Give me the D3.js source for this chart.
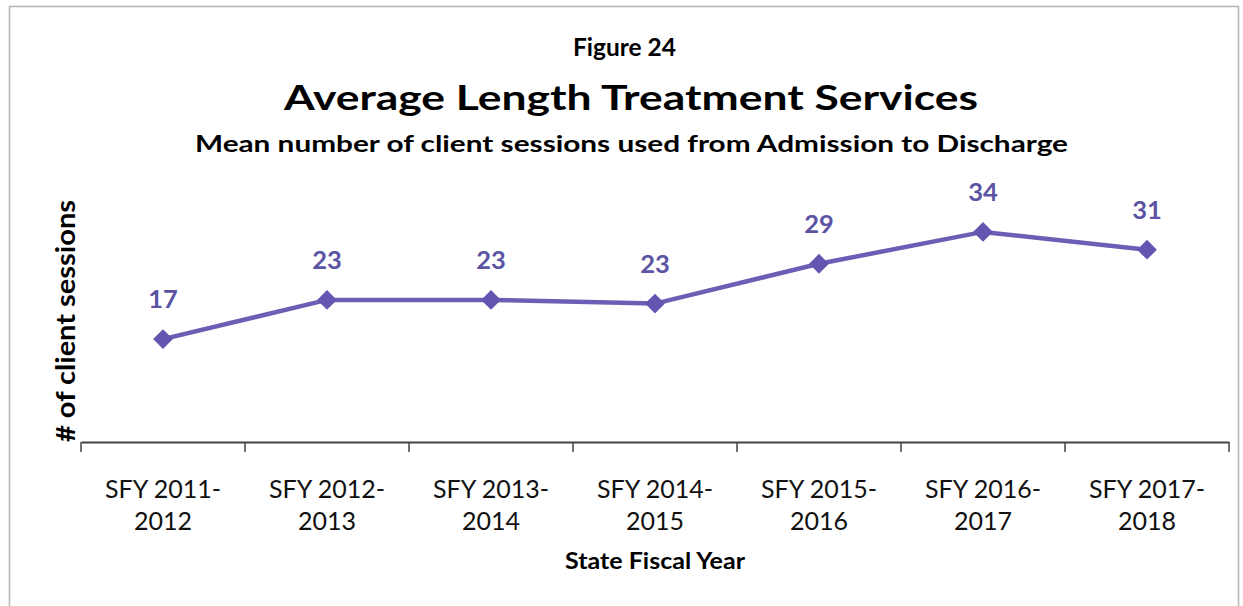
<!DOCTYPE html>
<html><head><meta charset="utf-8">
<script src="https://cdn.jsdelivr.net/npm/d3@7"></script>
<style>body{margin:0;background:#fff;} svg{display:block;}</style>
</head><body>
<svg id="c" width="1243" height="606"></svg>
<script>
const categories = ["SFY 2011-2012","SFY 2012-2013","SFY 2013-2014","SFY 2014-2015","SFY 2015-2016","SFY 2016-2017","SFY 2017-2018"];
const tickLines = [["SFY 2011-","2012"],["SFY 2012-","2013"],["SFY 2013-","2014"],["SFY 2014-","2015"],["SFY 2015-","2016"],["SFY 2016-","2017"],["SFY 2017-","2018"]];
const sessions = [16.8, 23.2, 23.2, 22.6, 29.1, 34.3, 31.4];

const svg = d3.select("#c");
const font = "Lato, 'Open Sans', sans-serif";
const purple = "#6a5fb4";

svg.append("rect").attr("x",9.5).attr("y",6.5).attr("width",1229).attr("height",610)
  .attr("fill","#fff").attr("stroke","#b5b5b5").attr("stroke-width",1.5);

const x = d3.scaleBand().domain(categories).range([81,1229]);
const y = d3.scaleLinear().domain([0,40]).range([442,197]);

function fitText(sel, len){ sel.attr("textLength",len).attr("lengthAdjust","spacingAndGlyphs"); return sel; }

fitText(svg.append("text").attr("x",624.5).attr("y",55.5).attr("text-anchor","middle")
  .attr("font-family",font).attr("font-weight","bold").attr("font-size",24.5).text("Figure 24"),103);
fitText(svg.append("text").attr("x",631).attr("y",109.5).attr("text-anchor","middle")
  .attr("font-family",font).attr("font-weight","bold").attr("font-size",35).text("Average Length Treatment Services"),694);
fitText(svg.append("text").attr("x",631.5).attr("y",152).attr("text-anchor","middle")
  .attr("font-family",font).attr("font-weight","bold").attr("font-size",22.5).text("Mean number of client sessions used from Admission to Discharge"),873);

// x axis
const xAxis = svg.append("g").attr("transform","translate(0,442)")
  .call(d3.axisBottom(x).tickSize(0).tickFormat(""));
xAxis.select(".domain").attr("stroke","#444").attr("stroke-width",2);
const bounds = categories.map(c=>x(c)).concat([x.range()[1]]);
svg.append("g").selectAll("line").data(bounds).join("line")
  .attr("x1",d=>d).attr("x2",d=>d).attr("y1",442).attr("y2",452)
  .attr("stroke","#444").attr("stroke-width",1.5);

const tl = svg.append("g").selectAll("text").data(categories).join("text")
  .attr("text-anchor","middle").attr("font-family",font).attr("font-size",25).attr("fill","#111")
  .attr("transform",d=>`translate(${x(d)+x.bandwidth()/2},0)`);
tl.each(function(d,i){
  const t=d3.select(this);
  tickLines[i].forEach((s,j)=>t.append("tspan").attr("x",0).attr("y",498+j*32).text(s));
});

fitText(svg.append("text").attr("x",655).attr("y",569).attr("text-anchor","middle")
  .attr("font-family",font).attr("font-weight","bold").attr("font-size",23).text("State Fiscal Year"),180);

fitText(svg.append("text").attr("transform","translate(75,321) rotate(-90)").attr("text-anchor","middle")
  .attr("font-family",font).attr("font-weight","bold").attr("font-size",26).text("# of client sessions"),242);

const cx = d=>x(d)+x.bandwidth()/2;
const line = d3.line().x((d,i)=>cx(categories[i])).y(d=>y(d));
svg.append("path").datum(sessions).attr("d",line).attr("fill","none")
  .attr("stroke",purple).attr("stroke-width",4.5);

svg.append("g").selectAll("path").data(sessions).join("path")
  .attr("d",d3.symbol().type(d3.symbolDiamond2).size(250))
  .attr("transform",(d,i)=>`translate(${cx(categories[i])},${y(d)})`)
  .attr("fill","#6356b0");

svg.append("g").selectAll("text").data(sessions).join("text")
  .attr("x",(d,i)=>cx(categories[i])).attr("y",d=>y(d)-31)
  .attr("text-anchor","middle").attr("font-family",font).attr("font-weight","bold")
  .attr("font-size",25.5).attr("fill","#5b53a3").text(d=>Math.round(d));
</script>
</body></html>
